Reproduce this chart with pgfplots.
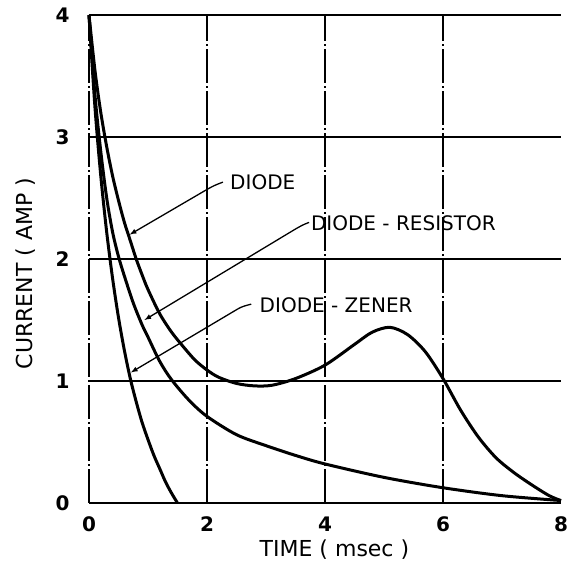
\documentclass[border=0pt]{standalone}
\usepackage{fontspec}
\setmainfont{DejaVu Sans}
\usepackage{pgfplots}
\pgfplotsset{compat=1.18}

\begin{document}
\begin{tikzpicture}
\begin{axis}[
    scale only axis,
    width=472pt, height=488pt,
    xmin=0, xmax=8, ymin=0, ymax=4,
    clip=false,
    axis line style={draw=none},
    major tick length=0pt,
    xtick={0,2,4,6}, ytick={0,1,2,3,4},
    extra x ticks={8}, extra x tick style={grid=none},
    grid=major,
    x grid style={black, line width=1.1pt, dash pattern=on 34pt off 3pt on 2pt off 3pt},
    y grid style={black, line width=1.2pt},
    tick label style={font=\fontsize{20}{24}\selectfont\bfseries},
    /pgf/number format/assume math mode=true,
    yticklabel style={xshift=-16pt},
    xticklabel style={yshift=-10pt},
    xlabel={TIME ( msec )},
    ylabel={CURRENT ( AMP )},
    every axis x label/.style={at={(axis description cs:0.52,0)}, anchor=center,
        yshift=-47pt, font=\fontsize{22}{26}\selectfont},
    every axis y label/.style={at={(axis description cs:0,0.47)}, rotate=90, anchor=center,
        yshift=63pt, font=\fontsize{22}{26}\selectfont},
]
% DIODE - ZENER
\addplot[black, line width=3pt, smooth] coordinates {
(0,4) (0.1,3.25) (0.2,2.68) (0.3,2.22) (0.4,1.84) (0.5,1.52) (0.6,1.25)
(0.7,1.02) (0.8,0.83) (0.9,0.66) (1.0,0.52) (1.1,0.39) (1.2,0.28)
(1.3,0.17) (1.4,0.08) (1.5,0)};
% DIODE - RESISTOR
\addplot[black, line width=3pt, smooth] coordinates {
(0,4) (0.1,3.35) (0.2,2.88) (0.3,2.5) (0.4,2.22) (0.5,2.02) (0.6,1.86)
(0.75,1.64) (0.9,1.46) (1.0,1.36) (1.2,1.16) (1.4,1.01) (1.7,0.84)
(2.0,0.71) (2.5,0.56) (3.0,0.47) (3.5,0.39) (4.0,0.32) (5,0.21)
(6,0.125) (7,0.06) (8,0.02)};
% DIODE
\addplot[black, line width=3pt, smooth] coordinates {
(0,4) (0.1,3.55) (0.2,3.2) (0.3,2.92) (0.4,2.68) (0.5,2.48) (0.6,2.3)
(0.7,2.15) (0.8,2.0) (0.9,1.87) (1.0,1.75) (1.2,1.55) (1.4,1.4)
(1.6,1.28) (1.8,1.17) (2.0,1.09) (2.2,1.03) (2.5,0.98) (2.8,0.96)
(3.1,0.965) (3.5,1.02) (4.0,1.13) (4.5,1.3) (4.8,1.4) (5.1,1.44) (5.4,1.38)
(5.7,1.24) (6.0,1.02) (6.3,0.76) (6.6,0.54) (6.9,0.37) (7.2,0.25)
(7.5,0.15) (7.8,0.06) (8.0,0.02)};

\begin{scope}[font=\fontsize{20}{24}\selectfont]
\node[anchor=west, inner sep=0pt] at (axis cs:2.39,2.63) {DIODE};
\node[anchor=west, inner sep=0pt] at (axis cs:3.76,2.29) {DIODE - RESISTOR};
\node[anchor=west, inner sep=0pt] at (axis cs:2.89,1.62) {DIODE - ZENER};
\end{scope}
\draw[line width=1.3pt, -latex] (axis cs:2.27,2.63) to[out=200,in=30] (axis cs:2.0,2.57) -- (axis cs:0.69,2.2);
\draw[line width=1.3pt, -latex] (axis cs:3.73,2.3) to[out=200,in=30] (axis cs:3.48,2.24) -- (axis cs:0.94,1.5);
\draw[line width=1.3pt, -latex] (axis cs:2.75,1.63) to[out=195,in=30] (axis cs:2.52,1.59) -- (axis cs:0.71,1.07);
\end{axis}
\pgfresetboundingbox
\path ([xshift=-89pt,yshift=-66pt]current axis.south west)
  rectangle ([xshift=9pt,yshift=15pt]current axis.north east);
\end{tikzpicture}
\end{document}
